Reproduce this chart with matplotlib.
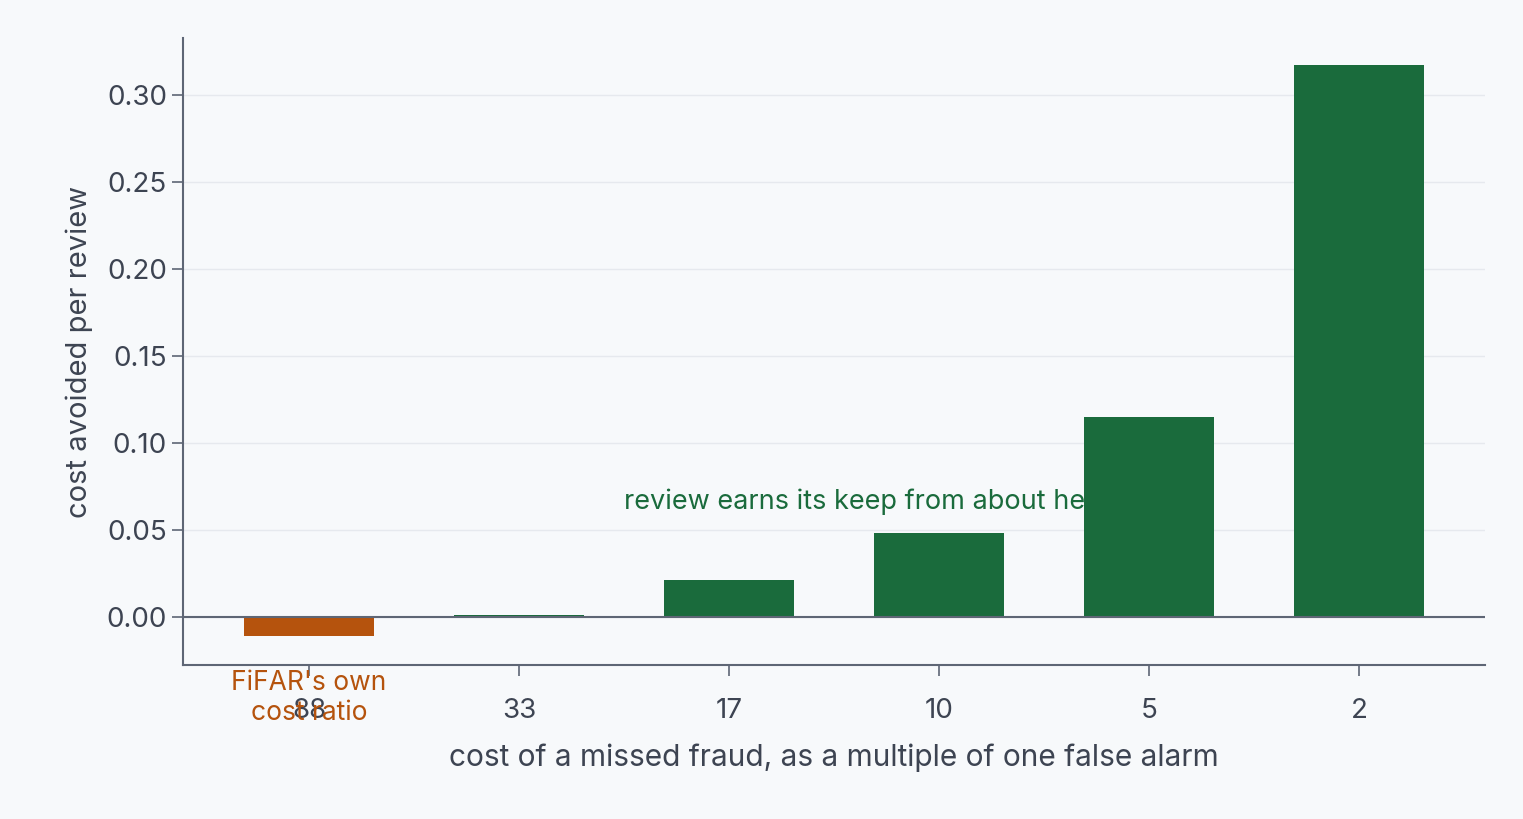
import matplotlib
matplotlib.use("Agg")
import matplotlib.pyplot as plt
import matplotlib.transforms as mtransforms

ratios = ["88", "33", "17", "10", "5", "2"]
values = [-0.011, 0.001, 0.021, 0.048, 0.115, 0.317]
colors = ["#b5530d", "#1a6b3c", "#1a6b3c", "#1a6b3c", "#1a6b3c", "#1a6b3c"]

plt.rcParams['font.family'] = ['Inter', 'DejaVu Sans']
bg = "#f7f9fb"
axc = "#5e6675"
fig = plt.figure(figsize=(15.23, 8.19), dpi=100, facecolor=bg)
ax = fig.add_axes([183/1523, 1-665/819, (1485-183)/1523, (665-38)/819], facecolor=bg)

x = list(range(len(ratios)))
ax.bar(x, values, width=0.62, color=colors, zorder=3)
ax.axhline(0, color=axc, lw=1.5, zorder=4)
ax.set_xlim(-0.6, 5.6)
ax.set_ylim(-0.0276, 0.3328)
ax.set_yticks([0, 0.05, 0.10, 0.15, 0.20, 0.25, 0.30])
ax.set_yticklabels(["0.00", "0.05", "0.10", "0.15", "0.20", "0.25", "0.30"])
ax.set_xticks(x)
ax.set_xticklabels(ratios)
ax.grid(axis='y', color="#e6e9ee", lw=1, zorder=0)
for s in ["top", "right"]:
    ax.spines[s].set_visible(False)
for s in ["left", "bottom"]:
    ax.spines[s].set_color(axc)
    ax.spines[s].set_linewidth(1.5)
ax.tick_params(colors=axc, labelsize=20, length=8, width=1.2, labelcolor="#3d4452")
ax.tick_params(axis='x', pad=16)
ax.set_xlabel("cost of a missed fraud, as a multiple of one false alarm", fontsize=21.5, color="#3d4452", labelpad=14)
ax.set_ylabel("cost avoided per review", fontsize=21, color="#3d4452", labelpad=10)

ax.text(1.5, 0.066, "review earns its keep from about here", fontsize=19.5, color="#1a6b3c",
        ha="left", va="center", zorder=2)
tr = mtransforms.blended_transform_factory(ax.transData, ax.transAxes)
ax.text(0, -0.052, "FiFAR's own\ncost ratio", fontsize=19, color="#b5530d", ha="center", va="center",
        transform=tr, linespacing=1.2, clip_on=False)

fig.savefig("out.png", dpi=100, facecolor=bg)
